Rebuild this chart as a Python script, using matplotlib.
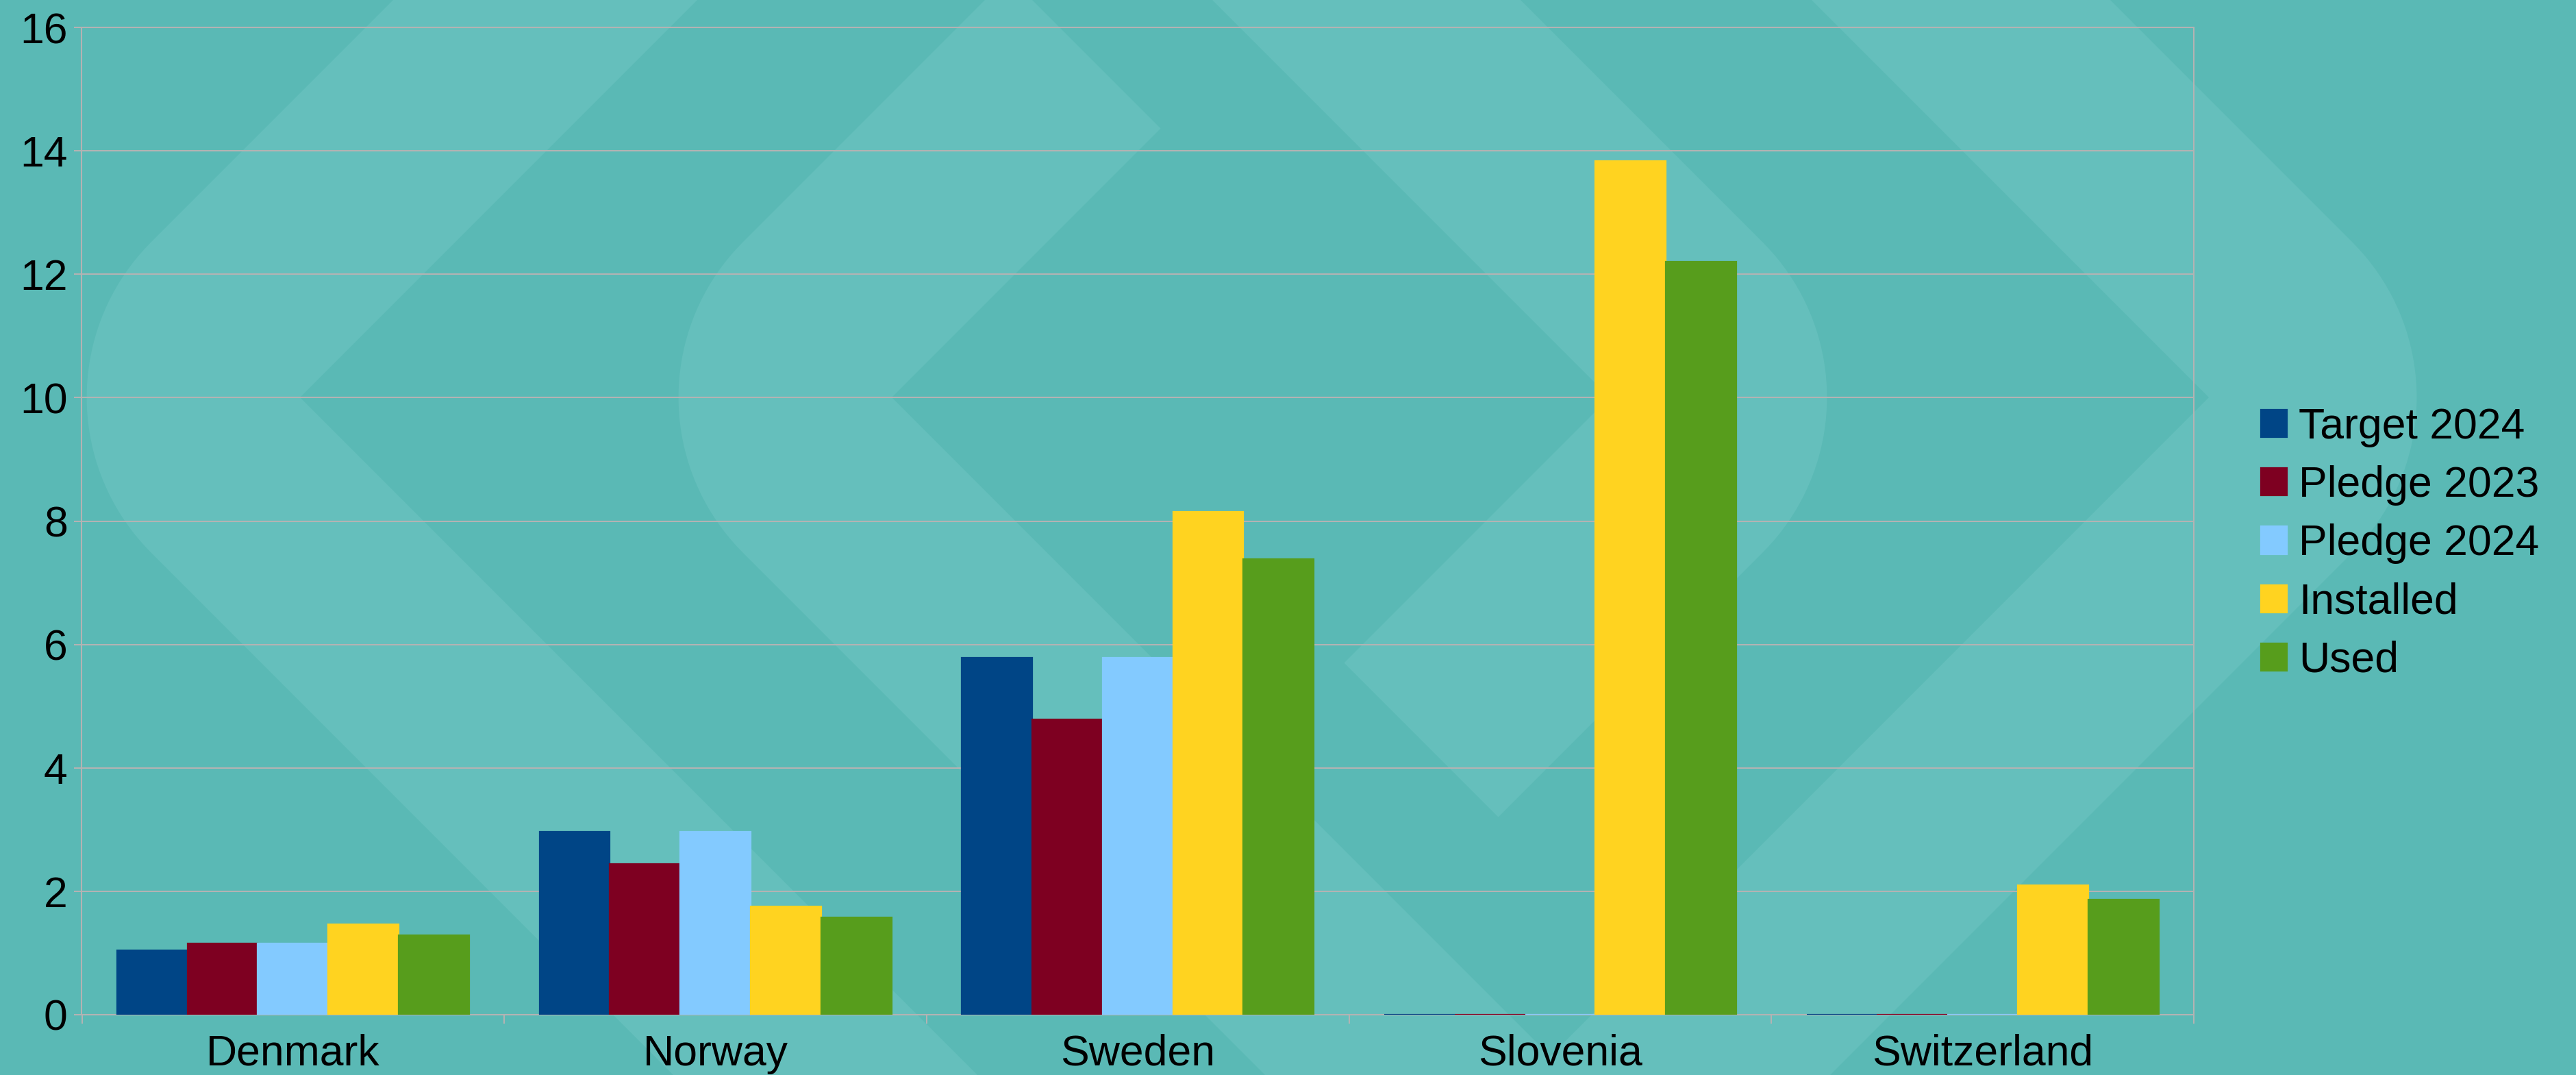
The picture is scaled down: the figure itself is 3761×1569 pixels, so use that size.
import matplotlib.pyplot as plt
import numpy as np
from matplotlib.patches import Polygon

countries = ["Denmark", "Norway", "Sweden", "Slovenia", "Switzerland"]
series_names = ["Target 2024", "Pledge 2023", "Pledge 2024", "Installed", "Used"]
target_2024 = [1.04, 2.96, 5.79, 0, 0]
pledge_2023 = [1.15, 2.44, 4.79, 0, 0]
pledge_2024 = [1.15, 2.96, 5.79, 0, 0]
installed = [1.47, 1.75, 8.15, 13.84, 2.10]
used = [1.29, 1.58, 7.38, 12.20, 1.86]
y_ticks = [0, 2, 4, 6, 8, 10, 12, 14, 16]

colors = ["#004586", "#7e0021", "#83caff", "#ffd320", "#579d1c"]
bg = "#5ab9b5"
deco = "#65bfbc"
grid_col = "#b3b3b3"

W, H = 3762, 1569

plt.rcParams['font.family'] = ['Liberation Sans', 'DejaVu Sans']


def chevron(x_inner, w, dirn, cap_top=None, cap_bot=None, tip_y=580, R=320):
    # background decoration: a chevron with a rounded outer tip (pixel coords, y down)
    u_i = dirn * x_inner
    pts = []
    k_in_up, k_out_up = u_i - tip_y, u_i + w - tip_y
    k_in_lo, k_out_lo = u_i + tip_y, u_i + w + tip_y
    if cap_top is None:
        pts.append((k_in_up - 100, -100))
    else:
        pts.append(((cap_top + k_in_up) / 2, (cap_top - k_in_up) / 2))
    pts.append((u_i, tip_y))
    if cap_bot is None:
        pts.append((k_in_lo - 1700, 1700))
        pts.append((k_out_lo - 1700, 1700))
    else:
        pts.append(((k_in_lo + cap_bot) / 2, (k_in_lo - cap_bot) / 2))
        pts.append(((k_out_lo + cap_bot) / 2, (k_out_lo - cap_bot) / 2))
    uc = u_i + w - R * np.sqrt(2)
    for th in np.linspace(np.pi / 4, -np.pi / 4, 40):
        pts.append((uc + R * np.cos(th), tip_y + R * np.sin(th)))
    if cap_top is None:
        pts.append((k_out_up - 100, -100))
    else:
        pts.append(((cap_top + k_out_up) / 2, (cap_top - k_out_up) / 2))
    return [(dirn * u / W, 1 - y / H) for u, y in pts]


fig = plt.figure(figsize=(W / 100, H / 100), dpi=100)
fig.patch.set_facecolor(bg)

for verts in [chevron(438, 444, -1),
              chevron(1302, 444, -1, cap_top=-1507),
              chevron(2350, 450, 1, cap_bot=995),
              chevron(3225, 436, 1)]:
    fig.add_artist(Polygon(verts, closed=True, facecolor=deco, edgecolor='none',
                           transform=fig.transFigure, zorder=-5))

ax = fig.add_axes([119.5 / W, 88 / H, (3203 - 119.5) / W, (1481 - 40) / H])
ax.set_facecolor('none')

x = np.arange(len(countries))
width = 1 / 6
all_series = [target_2024, pledge_2023, pledge_2024, installed, used]
for i, (name, vals) in enumerate(zip(series_names, all_series)):
    ax.bar(x + (i - 2) * width, vals, width, color=colors[i], edgecolor=colors[i],
           linewidth=1.6, label=name, zorder=3)

ax.set_xlim(-0.5, len(countries) - 0.5)
ax.set_ylim(0, 16)
ax.set_yticks(y_ticks)
ax.set_yticklabels([str(t) for t in y_ticks])
ax.set_xticks(x)
ax.set_xticklabels(countries)
ax.set_xticks(np.arange(len(countries) + 1) - 0.5, minor=True)

ax.yaxis.grid(True, color=grid_col, linewidth=1.5, zorder=0)
ax.set_axisbelow(True)
for s in ax.spines.values():
    s.set_color(grid_col)
    s.set_linewidth(1.5)

ax.tick_params(axis='y', length=8, width=1.5, color=grid_col, labelsize=45, pad=7)
ax.tick_params(axis='x', which='major', length=0, labelsize=45, pad=20)
ax.tick_params(axis='x', which='minor', length=9, width=1.5, color=grid_col)

fig.legend(loc='center left', bbox_to_anchor=(3301 / W, 1 - 794 / H),
           frameon=False, fontsize=45, handlelength=0.61, handleheight=0.61,
           handletextpad=0.27, labelspacing=0.42, borderpad=0, borderaxespad=0)

fig.savefig("out.png", dpi=100, facecolor=bg)
